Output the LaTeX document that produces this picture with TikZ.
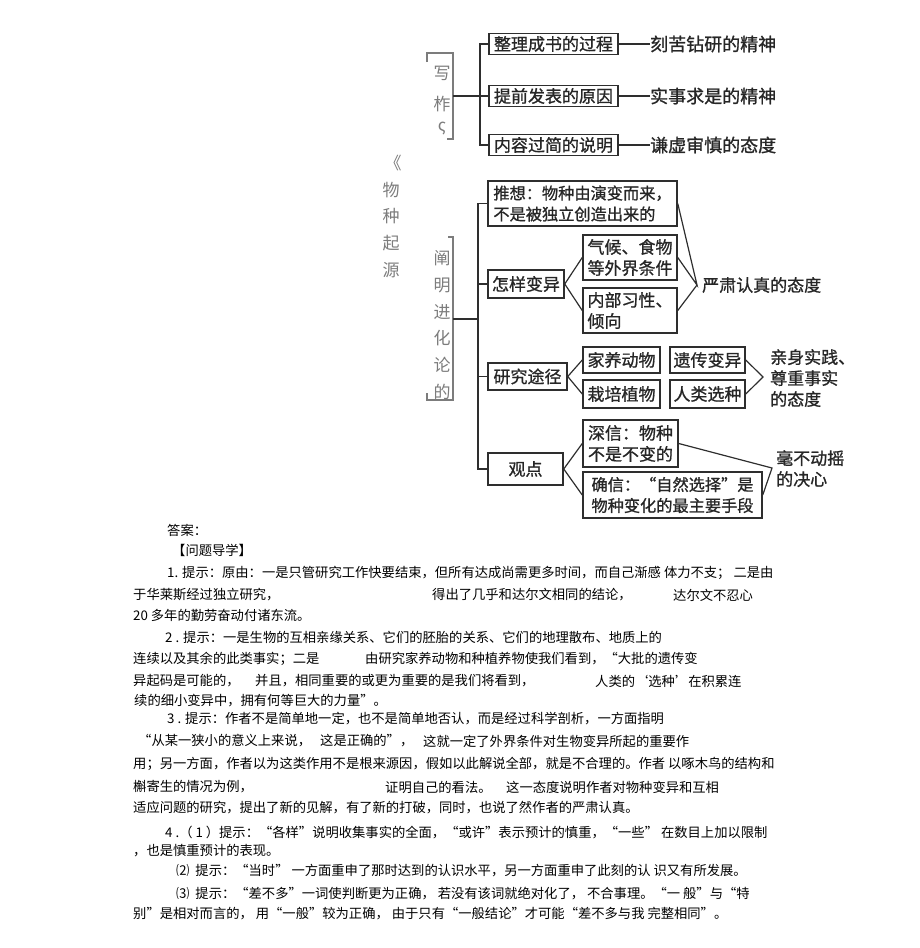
\documentclass[tikz,border=0pt]{standalone}
\usepackage{fontspec}
\setmainfont{Noto Sans CJK SC}
\newfontfamily\cjk{Noto Sans CJK SC}
\newfontfamily\cjkb[FakeBold=1]{Noto Sans CJK SC}
\usetikzlibrary{calc}
\definecolor{linec}{HTML}{2E2E2E}
\definecolor{greyc}{HTML}{7C7C7C}
\newcommand\bxfont{\cjkb\fontsize{17}{21}\selectfont}
\newcommand\bxsmall{\cjkb\fontsize{16.2}{21}\selectfont}
\newcommand\rtfont{\cjkb\fontsize{18}{20}\selectfont}
\newcommand\gyfont{\cjk\fontsize{17}{20}\selectfont}
\newcommand\anfont{\cjk\fontsize{13.3}{16}\selectfont}
\tikzset{
  box/.style={draw=linec, line width=1.5pt, inner sep=0pt, align=center, font=\bxfont, text=black!85},
  conn/.style={draw=linec, line width=1.2pt},
  brack/.style={draw=greyc, line width=1.1pt},
  grey/.style={text=greyc, font=\gyfont, inner sep=0pt},
  rtext/.style={anchor=west, inner sep=0pt, font=\rtfont, align=left, text=black!85},
  ans/.style={anchor=west, inner sep=0pt, font=\anfont}
}

\begin{document}
\begin{tikzpicture}[x=1pt, y=-1pt]
		\useasboundingbox (0,0) rectangle (920,948);
		%
		\node[grey] (g1) at (442,73) {写};
		\node[grey] (g2) at (442,104) {柞};
		\node[grey] (g3) at (442,128) {ς};
		\draw[brack] (427,62) -- (427,53) -- (453,53) -- (453,139) -- (447,139);
		\coordinate (br1) at (453,96);
		\coordinate (sp1) at (480,96);
		%
		\node[box, minimum width=129, minimum height=21] (b1) at (553.5,44) {整理成书的过程};
		\node[box, minimum width=129, minimum height=21] (b2) at (553.5,96) {提前发表的原因};
		\node[box, minimum width=129, minimum height=21] (b3) at (553.5,145) {内容过简的说明};
		\draw[conn] (b1.west) -| (sp1) |- (b3.west);
		\draw[conn] (br1) -- (b2.west);
		\node[rtext] (r1) at (650,44) {刻苦钻研的精神};
		\node[rtext] (r2) at (650,96) {实事求是的精神};
		\node[rtext] (r3) at (650,145) {谦虚审慎的态度};
		\draw[conn] (b1.east) -- (r1.west);
		\draw[conn] (b2.east) -- (r2.west);
		\draw[conn] (b3.east) -- (r3.west);
		%
		\node[grey] (k0) at (393,163) {《};
		\node[grey] (k1) at (391,190) {物};
		\node[grey] (k2) at (391,216) {种};
		\node[grey] (k3) at (391,243) {起};
		\node[grey] (k4) at (391,270) {源};
		%
		\node[grey] (h1) at (442,258) {阐};
		\node[grey] (h2) at (442,285) {明};
		\node[grey] (h3) at (442,312) {进};
		\node[grey] (h4) at (442,338) {化};
		\node[grey] (h5) at (442,365) {论};
		\node[grey] (h6) at (442,392) {的};
		\draw[brack] (448,237) -- (453,237) -- (453,400) -- (427,400) -- (427,393);
		\coordinate (br2) at (453,319);
		\coordinate (sp2) at (478,319);
		%
		\node[box, align=left, font=\bxsmall, minimum width=189, minimum height=45] (c1) at (582.5,203.5) {推想：物种由演变而来，\\不是被独立创造出来的};
		\node[box, minimum width=76, minimum height=28] (c2) at (526,284) {怎样变异};
		\node[box, minimum width=79, minimum height=27] (c3) at (527.5,376.5) {研究途径};
		\node[box, minimum width=75, minimum height=32] (c4) at (525.5,469) {观点};
		\draw[conn] (c1.west) -| (sp2) |- (c4.west);
		\draw[conn] (c2.west) -- (c2.west -| sp2);
		\draw[conn] (c3.west) -- (c3.west -| sp2);
		\draw[conn] (br2) -- (sp2);
		%
		\node[box, align=left, minimum width=94, minimum height=45] (d1) at (630,257.5) {气候、食物\\等外界条件};
		\node[box, align=left, minimum width=94, minimum height=45] (d2) at (630,310.5) {内部习性、\\倾向};
		\draw[conn] (d1.west) -- (c2.east) -- (d2.west);
		\coordinate (ap1) at (697,285);
		\node[rtext, font=\bxfont] (s1) at (702,285) {严肃认真的态度};
		\draw[conn] (c1.east) -- (ap1) -- (d1.east);
		\draw[conn] (d2.east) -- (ap1);
		%
		\node[box, minimum width=77, minimum height=26] (e1) at (621.5,360) {家养动物};
		\node[box, minimum width=77, minimum height=28] (e2) at (621.5,394) {栽培植物};
		\node[box, minimum width=75, minimum height=26] (e3) at (707.5,360) {遗传变异};
		\node[box, minimum width=75, minimum height=28] (e4) at (707.5,394) {人类选种};
		\draw[conn] (e1.west) -- (c3.east) -- (e2.west);
		\coordinate (ap2) at (763,377);
		\node[rtext, font=\bxfont, anchor=north west] (s2) at (770,349) {亲身实践、\\尊重事实\\的态度};
		\draw[conn] (e3.east) -- (ap2) -- (e4.east);
		%
		\node[box, align=left, minimum width=95, minimum height=47] (f1) at (630.5,443.5) {深信：物种\\不是不变的};
		\node[box, align=left, font=\bxsmall, minimum width=179, minimum height=46] (f2) at (672.5,495) {确信：“自然选择”是\\物种变化的最主要手段};
		\draw[conn] (f1.west) -- (c4.east) -- (f2.west);
		\coordinate (ap3) at (772,468);
		\node[rtext, font=\bxfont, anchor=north west] (s3) at (776,450) {毫不动摇\\的决心};
		\draw[conn] (f1.east) -- (ap3) -- (f2.east);
		%
		\node[ans] (a0) at (167,530) {答案：};
		\node[ans] (a00) at (172,550) {【问题导学】};
		\node[ans] (a1) at (167,573) {1. 提示：原由：一是只管研究工作快要结束，但所有达成尚需更多时间，而自己渐感 体力不支； 二是由};
		\node[ans] (a2a) at (133,595) {于华莱斯经过独立研究，};
		\node[ans] (a2b) at (432,595) {得出了几乎和达尔文相同的结论，};
		\node[ans] (a2c) at (673,595) {达尔文不忍心};
		\node[ans] (a3) at (133,615) {20 多年的勤劳奋动付诸东流。};
		\node[ans] (a4) at (165,637) {2 . 提示：一是生物的互相亲缘关系、它们的胚胎的关系、它们的地理散布、地质上的};
		\node[ans] (a5a) at (133,659) {连续以及其余的此类事实；二是};
		\node[ans] (a5b) at (365,659) {由研究家养动物和种植养物使我们看到，“大批的遗传变};
		\node[ans] (a6a) at (133,681) {异起码是可能的，};
		\node[ans] (a6b) at (255,681) {并且，相同重要的或更为重要的是我们将看到，};
		\node[ans] (a6c) at (595,681) {人类的‘选种’在积累连};
		\node[ans] (a7) at (134,701) {续的细小变异中，拥有何等巨大的力量”。};
		\node[ans] (a8) at (167,719) {3 . 提示：作者不是简单地一定，也不是简单地否认，而是经过科学剖析，一方面指明};
		\node[ans] (a9a) at (138,741) {“从某一狭小的意义上来说，};
		\node[ans] (a9b) at (320,741) {这是正确的”，};
		\node[ans] (a9c) at (423,741) {这就一定了外界条件对生物变异所起的重要作};
		\node[ans] (a10) at (133,764) {用；另一方面，作者以为这类作用不是根来源因，假如以此解说全部，就是不合理的。作者 以啄木鸟的结构和};
		\node[ans] (a11a) at (133,787) {槲寄生的情况为例，};
		\node[ans] (a11b) at (385,787) {证明自己的看法。};
		\node[ans] (a11c) at (506,787) {这一态度说明作者对物种变异和互相};
		\node[ans] (a12) at (133,808) {适应问题的研究，提出了新的见解，有了新的打破，同时，也说了然作者的严肃认真。};
		\node[ans] (a13) at (165,833) {4 .（ 1 ）提示：“各样”说明收集事实的全面，“或许”表示预计的慎重，“一些” 在数目上加以限制};
		\node[ans] (a14) at (133,851) {，也是慎重预计的表现。};
		\node[ans] (a15) at (176,871) {⑵\ \ 提示：“当时” 一方面重申了那时达到的认识水平，另一方面重申了此刻的认 识又有所发展。};
		\node[ans] (a16) at (176,894) {⑶\ \ 提示：“差不多”一词使判断更为正确，\ 若没有该词就绝对化了，\ 不合事理。“一 般”与“特};
		\node[ans] (a17) at (133,914) {别”是相对而言的，\ 用“一般”较为正确，\ 由于只有“一般结论”才可能“差不多与我 完整相同”。};
	\end{tikzpicture}
\end{document}
